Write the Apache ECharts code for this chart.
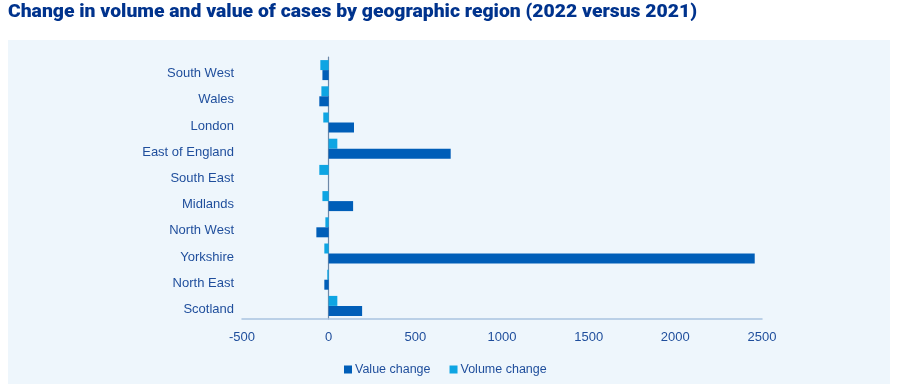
<!DOCTYPE html>
<html><head><meta charset="utf-8">
<script src="https://cdn.jsdelivr.net/npm/echarts@6/dist/echarts.min.js"></script>
<style>html,body{margin:0;padding:0;background:#fff}#c{width:900px;height:384px}</style>
</head><body><div id="c"></div>
<script>
const regions = ['South West','Wales','London','East of England','South East','Midlands','North West','Yorkshire','North East','Scotland'];
const valueChange = [-36,-54,146,704,0,141,-71,2458,-25,193];
const volumeChange = [-48,-42,-31,50,-54,-36,-19,-25,-8,50];
const xTicks = [-500,0,500,1000,1500,2000,2500];
const titleText = 'Change in volume and value of cases by geographic region (2022 versus 2021)';

const titleFont = '900 18px Roboto';
const cv = document.createElement('canvas').getContext('2d');
cv.font = titleFont;
const titleScale = 689 / cv.measureText(titleText).width;

const chart = echarts.init(document.getElementById('c'));
const txt = '#1f4e9c';
chart.setOption({
  animation:false,
  backgroundColor:'#ffffff',
  graphic:[
    {type:'rect',left:8,top:40,shape:{width:882,height:344},style:{fill:'#eef6fc'},z:-10},
    {type:'text',x:8,y:3,scaleX:titleScale,style:{text:titleText,font:titleFont,fill:'#00338d',textVerticalAlign:'top'}}
  ],
  grid:{left:242,right:138,top:57,bottom:65},
  legend:{data:['Value change','Volume change'],bottom:8,left:344,padding:0,itemWidth:8,itemHeight:8,itemGap:19,
    icon:'rect',textStyle:{fontFamily:'Liberation Sans',fontSize:12.5,color:txt,padding:[0,0,0,-2]}},
  xAxis:{type:'value',min:-500,max:2500,interval:500,splitLine:{show:false},
    axisLine:{show:true,lineStyle:{color:'#a9c3e0',width:1.5}},axisTick:{show:false},
    axisLabel:{color:txt,fontFamily:'Liberation Sans',fontSize:13,margin:12,
      formatter:v=>xTicks.includes(v)?String(v):''}},
  yAxis:{type:'category',data:regions,inverse:true,
    axisLine:{show:true,onZero:true,lineStyle:{color:'#6d88a8',width:1.2}},axisTick:{show:false},
    axisLabel:{margin:8,formatter:v=>'{a|'+v+'}',
      rich:{a:{color:txt,fontFamily:'Liberation Sans',fontSize:13,padding:[7,0,0,0]}}}},
  series:[
    {name:'Volume change',type:'bar',data:volumeChange,barWidth:10,barGap:'0%',itemStyle:{color:'#0ea5e3'}},
    {name:'Value change',type:'bar',data:valueChange,barWidth:10,barGap:'0%',itemStyle:{color:'#005eb8'}}
  ]
});
</script></body></html>
